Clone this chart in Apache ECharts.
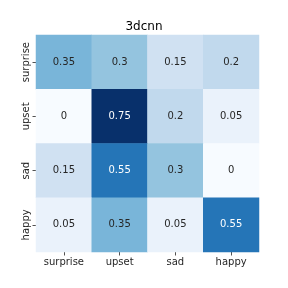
<!DOCTYPE html>
<html><head><meta charset="utf-8">
<script src="https://cdn.jsdelivr.net/npm/echarts@6/dist/echarts.min.js"></script>
<style>html,body{margin:0;padding:0;background:#fff}#c{width:288px;height:288px}</style>
</head><body><div id="c"></div>
<script>
const xCategories = ['surprise','upset','sad','happy'];
const yCategories = ['surprise','upset','sad','happy'];
const rowSurprise = [0.35, 0.3, 0.15, 0.2];
const rowUpset = [0, 0.75, 0.2, 0.05];
const rowSad = [0.15, 0.55, 0.3, 0];
const rowHappy = [0.05, 0.35, 0.05, 0.55];
const rows = [rowSurprise, rowUpset, rowSad, rowHappy];
const blues = ['#f7fbff','#deebf7','#c6dbef','#9ecae1','#6baed6','#4292c6','#2171b5','#08519c','#08306b'];

const data = [];
rows.forEach((r, yi) => r.forEach((v, xi) => {
  data.push({value:[xi, yi, v], label:{color: v >= 0.5 ? '#ffffff' : '#262626'}});
}));

const chart = echarts.init(document.getElementById('c'), null, {renderer:'canvas'});
chart.setOption({
  animation:false,
  title:{text:'3dcnn', left:'center', top:16, textStyle:{fontSize:12, fontWeight:'normal', color:'#000', fontFamily:'DejaVu Sans'}},
  grid:{left:36, right:29, top:35, bottom:36},
  xAxis:{type:'category', data:xCategories, position:'bottom',
    axisLine:{show:false}, splitLine:{show:false},
    axisTick:{show:true, alignWithLabel:true, length:3.5, lineStyle:{color:'#262626', width:0.8}},
    axisLabel:{fontSize:10, color:'#262626', fontFamily:'DejaVu Sans', margin:5}},
  yAxis:{type:'category', data:yCategories, inverse:true,
    axisLine:{show:false}, splitLine:{show:false},
    axisTick:{show:true, alignWithLabel:true, length:3.5, lineStyle:{color:'#262626', width:0.8}},
    axisLabel:{fontSize:10, color:'#262626', fontFamily:'DejaVu Sans', rotate:90, margin:5}},
  visualMap:{show:false, min:0, max:0.75, dimension:2, inRange:{color:blues}},
  series:[{type:'heatmap', data:data,
    label:{show:true, fontSize:10, fontFamily:'DejaVu Sans', formatter:p=>String(p.value[2])},
    itemStyle:{borderWidth:0}}]
});
</script></body></html>
